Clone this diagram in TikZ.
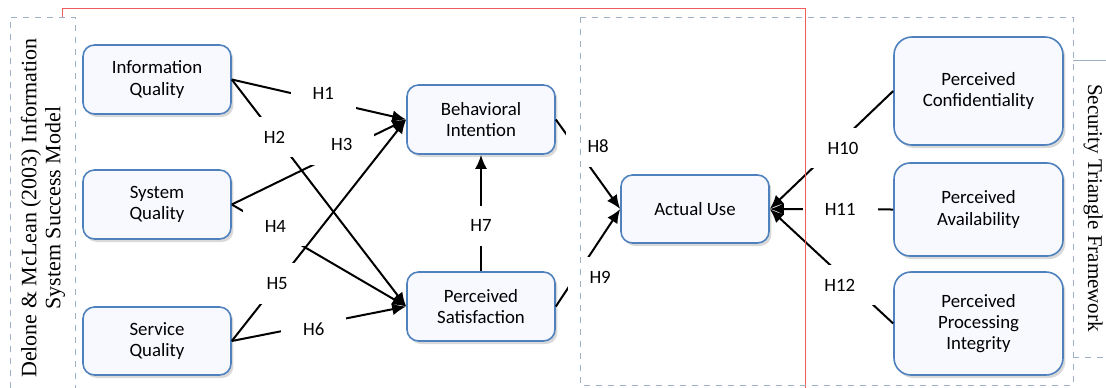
\documentclass[tikz,border=0pt]{standalone}
\usepackage{fontspec}
\setmainfont{Liberation Serif}
\newfontfamily\calibri{Carlito}
\usetikzlibrary{arrows.meta,shadows}

\definecolor{boxblue}{HTML}{4F81BD}
\definecolor{boxfill}{HTML}{F8F8FF}
\definecolor{framegray}{HTML}{9DB1C9}
\definecolor{framered}{HTML}{F25C5C}

\begin{document}
\begin{tikzpicture}[x=0.5pt, y=-0.5pt,
    construct/.style={draw=boxblue, fill=boxfill, line width=0.8pt, align=center,
        inner sep=0pt, font=\calibri\fontsize{9.4}{10.6}\selectfont,
        drop shadow={shadow xshift=1.2pt, shadow yshift=-1.5pt, opacity=0.3}},
    hyp/.style={line width=1pt, -{Latex[length=7pt,width=6pt]}},
    hlabel/.style={fill=white, inner xsep=11pt, inner ysep=7pt,
        font=\calibri\fontsize{9.4}{10.6}\selectfont},
    frame/.style={draw=framegray, line width=0.4pt, dashed}]
    \clip (0,0) rectangle (1106,387);
    \useasboundingbox (0,0) rectangle (1106,387);

    \node[construct, minimum width=74pt, minimum height=34.5pt, rounded corners=5.75pt] (IQ)  at (157,79.5)  {Information\\Quality};
    \node[construct, minimum width=74pt, minimum height=34.5pt, rounded corners=5.75pt] (SQ)  at (157,204.5) {System\\Quality};
    \node[construct, minimum width=74pt, minimum height=34pt,   rounded corners=5.75pt] (SvQ) at (157,341)   {Service\\Quality};
    \node[construct, minimum width=74pt, minimum height=34.5pt, rounded corners=5.75pt] (BI)  at (481,119.5) {Behavioral\\Intention};
    \node[construct, minimum width=74pt, minimum height=34.5pt, rounded corners=5.75pt] (PS)  at (481,306.5) {Perceived\\Satisfaction};
    \node[construct, minimum width=74pt, minimum height=34pt,   rounded corners=5.75pt] (AU)  at (695,209)   {Actual Use};
    \node[construct, minimum width=84.5pt, minimum height=54pt,   rounded corners=9pt]  (PC)  at (978.5,91)    {Perceived\\Confidentiality};
    \node[construct, minimum width=84.5pt, minimum height=46.5pt, rounded corners=8pt]  (PA)  at (978.5,209.5) {Perceived\\Availability};
    \node[construct, minimum width=84.5pt, minimum height=51.5pt, rounded corners=8.5pt] (PPI) at (978.5,323.5) {Perceived\\Processing\\Integrity};

    \draw [hyp] (IQ.east)  -- node[hlabel, pos=0.525, yshift=3.5pt] {H1} (BI.west);
    \draw [hyp] (IQ.east)  -- node[hlabel, pos=0.245, yshift=-1pt] {H2} (PS.west);
    \draw [hyp] (SQ.east)  -- node[hlabel, pos=0.63, yshift=3pt]    {H3} (BI.west);
    \draw [hyp] (SQ.east)  -- node[hlabel, pos=0.25, yshift=2pt]    {H4} (PS.west);
    \draw [hyp] (SvQ.east) -- node[hlabel, pos=0.26]                {H5} (BI.west);
    \draw [hyp] (SvQ.east) -- node[hlabel, pos=0.47, yshift=-2pt]  {H6} (PS.west);
    \draw [hyp] (PS.north) -- node[hlabel, pos=0.39]                {H7} (BI.south);
    \draw [hyp] (BI.east)  -- node[hlabel, pos=0.3, xshift=11.5pt] {H8} (AU.west);
    \draw [hyp] (PS.east)  -- node[hlabel, pos=0.3, xshift=12.5pt] {H9} (AU.west);
    \draw [hyp] (PC.west)  -- node[hlabel, pos=0.483, xshift=4.7pt] {H10} (AU.east);
    \draw [hyp] (PA.west)  -- node[hlabel, pos=0.43]                {H11} (AU.east);
    \draw [hyp] (PPI.west) -- node[hlabel, pos=0.336, xshift=-6pt]  {H12} (AU.east);

    \draw [framered, line width=0.4pt] (62,400) -- (62,8) -- (805,8) -- (805,400);
    \draw [frame] (580,17) rectangle (1073,385);
    \draw [frame, fill=white] (10,400) -- (10,17) -- (75,17) -- (75,400);
    \draw [framegray, line width=0.4pt] (1073,60) -- (1110,60);
    \draw [frame] (1073,357) -- (1110,357);

    \node[rotate=90, align=center, font=\fontsize{11}{12}\selectfont] (DM) at (43,208)
        {Delone \& McLean (2003) Information\\System Success Model};
    \node[rotate=-90, font=\fontsize{10.5}{12}\selectfont] (ST) at (1093,208)
        {Security Triangle Framework};
\end{tikzpicture}
\end{document}
